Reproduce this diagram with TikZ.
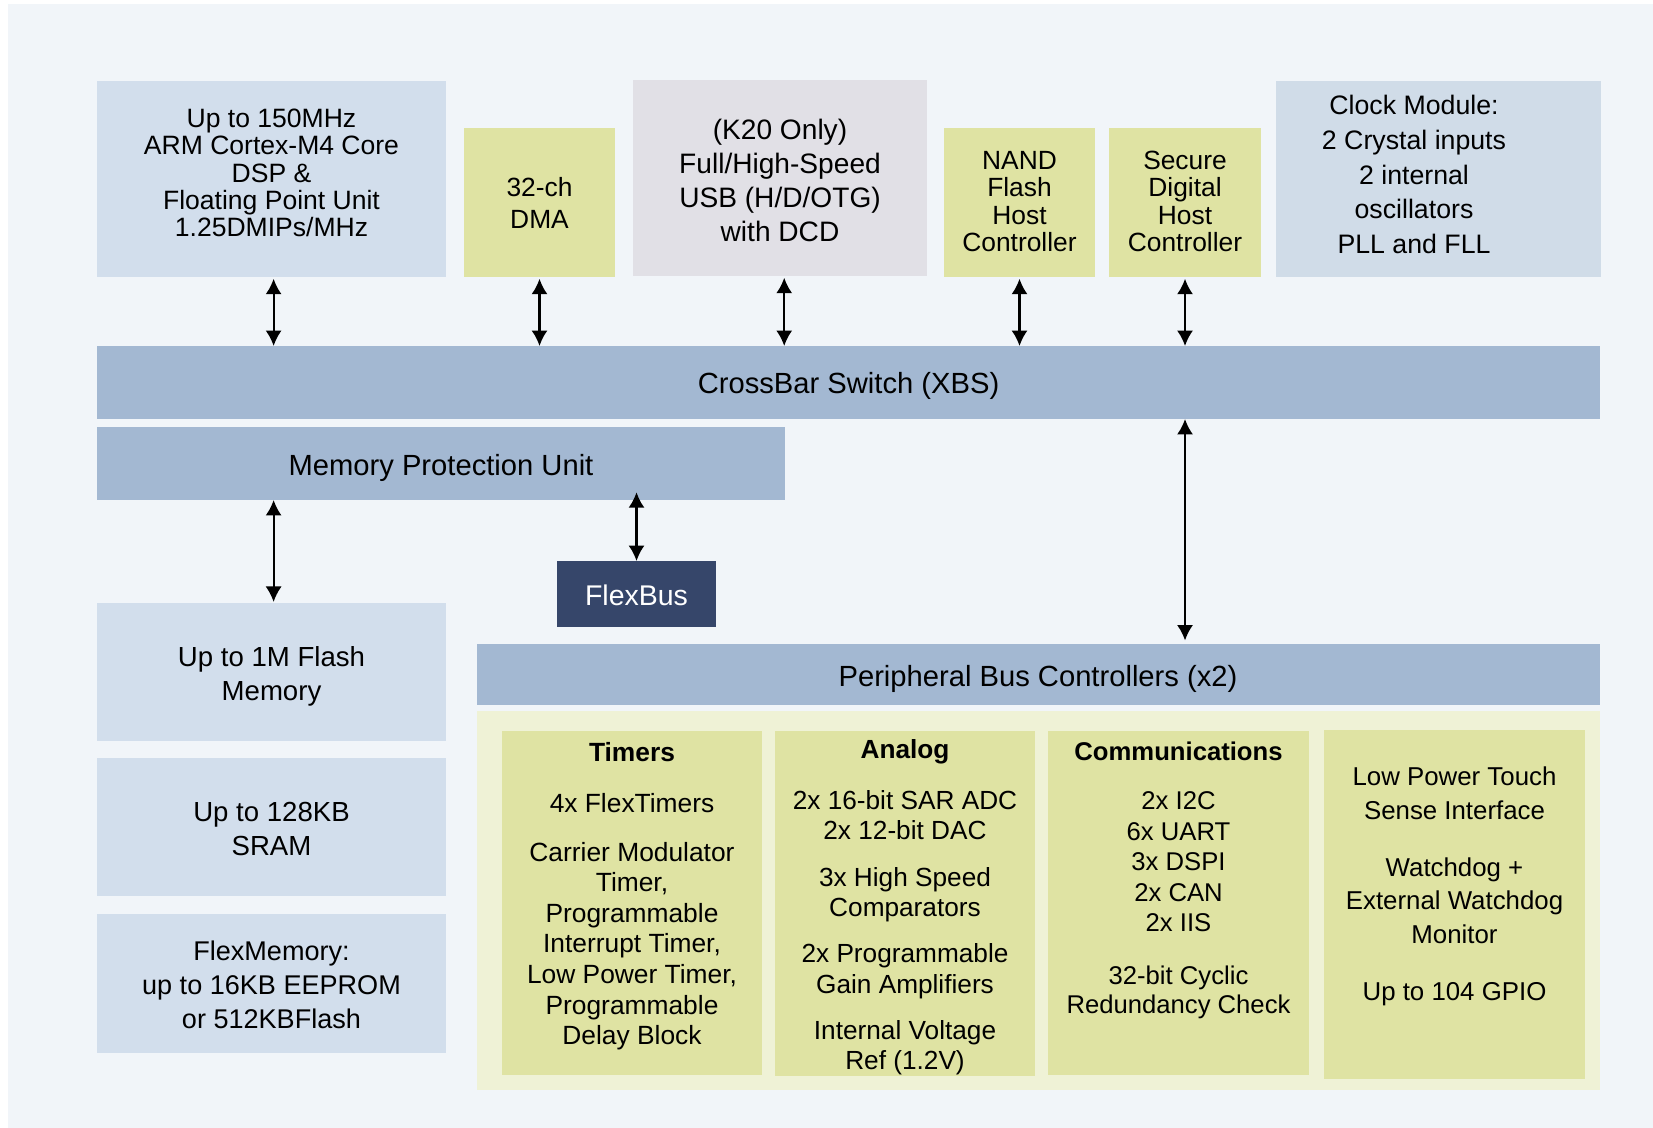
\documentclass[tikz,border=0pt]{standalone}
\usepackage{fontspec}
\setmainfont{Liberation Sans}
\usepackage{tikz}
\usetikzlibrary{arrows.meta}

\definecolor{bgcol}{HTML}{F1F5F9}
\definecolor{memblue}{HTML}{D2DEEC}
\definecolor{clkblue}{HTML}{D0DCE8}
\definecolor{usbgray}{HTML}{E1E0E6}
\definecolor{periphgreen}{HTML}{DFE3A3}
\definecolor{periphback}{HTML}{EFF2D6}
\definecolor{busblue}{HTML}{A3B8D2}
\definecolor{flexnavy}{HTML}{36466A}

\newcommand{\fs}[2]{\fontsize{#1}{#2}\selectfont}

\begin{document}
\begin{tikzpicture}[x=0.1mm, y=-0.1mm,
	blk/.style 2 args={inner sep=0pt, outer sep=0pt, minimum width=#1*0.1mm, minimum height=#2*0.1mm},
	txt/.style={align=center, inner sep=0pt, text=black},
	link/.style={<->, line width=0.6pt, >={Latex[length=4.4pt,width=4.6pt]}}]
	
	\useasboundingbox (0,0) rectangle (1653,1128);
	\fill[white] (0,0) rectangle (1653,1128);
	\fill[bgcol] (8,4) rectangle (1653,1128);
	
	% top row
	\node[blk={349}{196}, fill=memblue] (cpu) at (271.5,179) {};
	\node[blk={151}{149}, fill=periphgreen] (dma) at (539.5,202.5) {};
	\node[blk={294}{196}, fill=usbgray] (usb) at (780,178) {};
	\node[blk={151}{149}, fill=periphgreen] (nand) at (1019.5,202.5) {};
	\node[blk={152}{149}, fill=periphgreen] (sdhc) at (1185,202.5) {};
	\node[blk={325}{196}, fill=clkblue] (clk) at (1438.5,179) {};
	
	\node[txt, font=\fs{7.55}{7.8}] at (271.5,173) {Up to 150MHz\\ARM Cortex-M4 Core\\DSP \&\\Floating Point Unit\\1.25DMIPs/MHz};
	\node[txt, font=\fs{7.5}{9}] at (539.5,203) {32-ch\\DMA};
	\node[txt, font=\fs{8}{9.6}] at (780,180.5) {(K20 Only)\\Full/High-Speed\\USB (H/D/OTG)\\with DCD};
	\node[txt, font=\fs{7.5}{7.8}] at (1019.5,201.5) {NAND\\Flash\\Host\\Controller};
	\node[txt, font=\fs{7.5}{7.8}] at (1185,201.5) {Secure\\Digital\\Host\\Controller};
	\node[txt, font=\fs{7.6}{9.9}] at (1414,174.5) {Clock Module:\\2 Crystal inputs\\2 internal\\oscillators\\PLL and FLL};
	
	% buses
	\node[blk={1503}{73}, fill=busblue, font=\fs{8.3}{10}] (xbs) at (848.5,382.5) {};
	\node[blk={688}{73}, fill=busblue, font=\fs{8.3}{10}] (mpu) at (441,463.5) {};
	\node[blk={159}{66}, fill=flexnavy, text=white, font=\fs{8.1}{10}] (flexbus) at (636.5,594) {};
	\node[blk={1123}{61}, fill=busblue, font=\fs{8.3}{10}] (pbc) at (1038,674.5) {};
	\node[txt, font=\fs{8.3}{10}] at (848.5,386) {CrossBar Switch (XBS)};
	\node[txt, font=\fs{8.3}{10}] at (441,467.5) {Memory Protection Unit};
	\node[txt, text=white, font=\fs{8.1}{10}] at (636.5,595.5) {FlexBus};
	\node[txt, font=\fs{8.3}{10}] at (1038,678.5) {Peripheral Bus Controllers (x2)};
	
	% memories
	\node[blk={349}{138}, fill=memblue] (flash) at (271.5,672) {};
	\node[blk={349}{138}, fill=memblue] (sram) at (271.5,827) {};
	\node[blk={349}{139}, fill=memblue] (flexmem) at (271.5,983.5) {};
	\node[txt, font=\fs{7.85}{9.6}] at (271.5,676.5) {Up to 1M Flash\\Memory};
	\node[txt, font=\fs{7.85}{9.6}] at (271.5,829) {Up to 128KB\\SRAM};
	\node[txt, font=\fs{7.7}{9.6}] at (271.5,985) {FlexMemory:\\up to 16KB EEPROM\\or 512KBFlash};
	
	% peripherals
	\fill[periphback] (476.5,710.5) rectangle (1600,1090);
	\node[blk={260}{344}, fill=periphgreen] (timers) at (632,903) {};
	\node[blk={260}{345}, fill=periphgreen] (analog) at (905,903) {};
	\node[blk={261}{344}, fill=periphgreen] (comms) at (1178.5,903) {};
	\node[blk={261}{349}, fill=periphgreen] (misc) at (1454.5,904) {};
	
	\node[txt, font=\fs{7.5}{8.7}] at (632,896) {\textbf{Timers}\\[5.9pt]4x FlexTimers\\[5.2pt]Carrier Modulator\\Timer,\\Programmable\\Interrupt Timer,\\Low Power Timer,\\Programmable\\Delay Block};
	\node[txt, font=\fs{7.46}{8.55}] at (905,907.5) {\textbf{Analog}\\[5.9pt]2x 16-bit SAR ADC\\2x 12-bit DAC\\[4.7pt]3x High Speed\\Comparators\\[4.7pt]2x Programmable\\Gain Amplifiers\\[4.7pt]Internal Voltage\\Ref (1.2V)};
	\node[txt, font=\fs{7.3}{8.7}] at (1178.5,880.5) {\textbf{Communications}\\[5.1pt]2x I2C\\6x UART\\3x DSPI\\2x CAN\\2x IIS\\[6.4pt]32-bit Cyclic\\[-0.6pt]Redundancy Check};
	\node[txt, font=\fs{7.35}{9.5}] at (1454.5,886.5) {Low Power Touch\\Sense Interface\\[6.8pt]Watchdog +\\External Watchdog\\Monitor\\[6.8pt]Up to 104 GPIO};
	
	% connections
	\draw[link, shorten <=0.5pt] ([xshift=0.6pt]cpu.south) -- ([xshift=0.6pt]cpu.south |- xbs.north);
	\draw[link, shorten <=0.5pt] (dma.south) -- (dma.south |- xbs.north);
	\draw[link, shorten <=0.5pt] ([xshift=1.2pt]usb.south) -- ([xshift=1.2pt]usb.south |- xbs.north);
	\draw[link, shorten <=0.5pt] (nand.south) -- (nand.south |- xbs.north);
	\draw[link, shorten <=0.5pt] (sdhc.south) -- (sdhc.south |- xbs.north);
	\draw[link, shorten >=0.3pt] ([xshift=0.6pt]mpu.south -| cpu.south) -- ([xshift=0.6pt]flash.north);
	\draw[link, shorten <=-2.2pt] (flexbus.north |- mpu.south) -- (flexbus.north);
	\draw[link, shorten >=1pt] (sdhc.south |- xbs.south) -- (sdhc.south |- pbc.north);
	
\end{tikzpicture}
\end{document}
